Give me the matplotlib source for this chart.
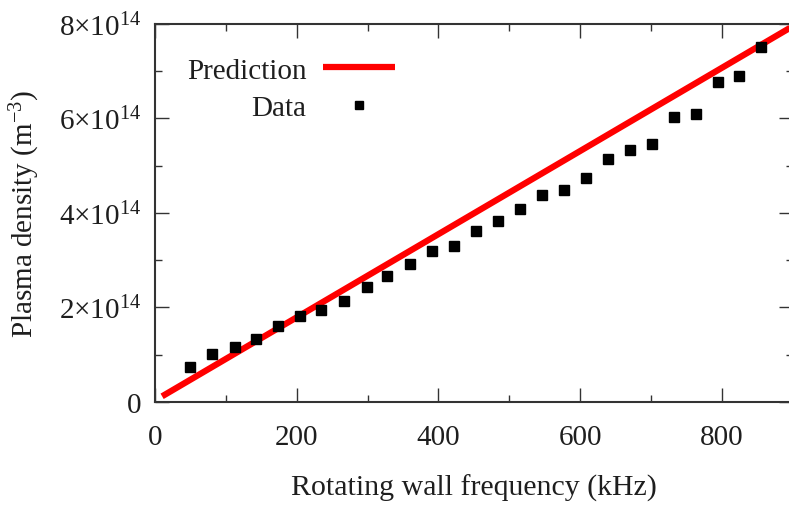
import numpy as np
import matplotlib
matplotlib.use("Agg")
import matplotlib.pyplot as plt
from matplotlib.ticker import MultipleLocator

plt.rcParams['font.family'] = ['Liberation Serif', 'DejaVu Serif']
plt.rcParams['mathtext.fontset'] = 'custom'
plt.rcParams['mathtext.rm'] = 'Liberation Serif'
plt.rcParams['mathtext.it'] = 'Liberation Serif:italic'
plt.rcParams['mathtext.bf'] = 'Liberation Serif:bold'

# measured data points (kHz, m^-3)
freq = [50, 80, 113, 143, 174, 205, 235, 267, 299, 328, 360, 391, 422, 453,
        484, 515, 546, 577, 608, 639, 670, 702, 732, 763, 795, 825, 856]
density = np.array([0.74, 1.02, 1.16, 1.33, 1.61, 1.83, 1.95, 2.14, 2.43, 2.66,
                    2.92, 3.20, 3.31, 3.61, 3.82, 4.08, 4.38, 4.49, 4.73, 5.14,
                    5.34, 5.46, 6.03, 6.09, 6.77, 6.89, 7.52]) * 1e14

# prediction line endpoints
pred_freq = [10, 900]
pred_density = np.array([0.12, 7.95]) * 1e14

x_ticks = [0, 200, 400, 600, 800]
y_ticks = [0, 2e14, 4e14, 6e14, 8e14]
y_tick_labels = ['0', r'$2{\times}10^{14}$', r'$4{\times}10^{14}$',
                 r'$6{\times}10^{14}$', r'$8{\times}10^{14}$']

text_color = '#1e1e1e'
fs = 21

fig = plt.figure(figsize=(7.89, 5.06), dpi=100)
ax = fig.add_axes([0.1965, 0.2036, 0.808, 0.747])

ax.plot(pred_freq, pred_density, color='#ff0000', lw=4.5, label='Prediction',
        solid_capstyle='butt')
ax.plot(freq, density, 's', color='black', markersize=6.5, label='Data')

ax.set_xlim(0, 900)
ax.set_ylim(0, 8e14)
ax.set_xticks(x_ticks)
ax.set_yticks(y_ticks)
ax.set_yticklabels(y_tick_labels)
ax.xaxis.set_minor_locator(MultipleLocator(100))
ax.yaxis.set_minor_locator(MultipleLocator(1e14))

ax.tick_params(which='both', direction='in', top=True, right=True,
               width=1.0, color='#333333', labelsize=fs, labelcolor=text_color)
ax.tick_params(which='major', length=10)
ax.tick_params(which='minor', length=5)
ax.tick_params(axis='x', which='major', pad=16)
ax.tick_params(axis='y', which='major', pad=10)

for s in ax.spines.values():
    s.set_linewidth(1.5)
    s.set_color('#333333')

ax.set_xlabel('Rotating wall frequency (kHz)', fontsize=21.5, color=text_color,
              labelpad=17)
ax.set_ylabel('Plasma density (m$^{-3}$)', fontsize=fs, color=text_color,
              labelpad=12)

ax.legend(loc='upper left', bbox_to_anchor=(0.05, 0.912), frameon=False,
          markerfirst=False, fontsize=fs, handlelength=2.5, handletextpad=0.55,
          labelspacing=0.38, borderpad=0, borderaxespad=0, markerscale=0.85,
          labelcolor=text_color)

fig.savefig('out.png', dpi=100)
